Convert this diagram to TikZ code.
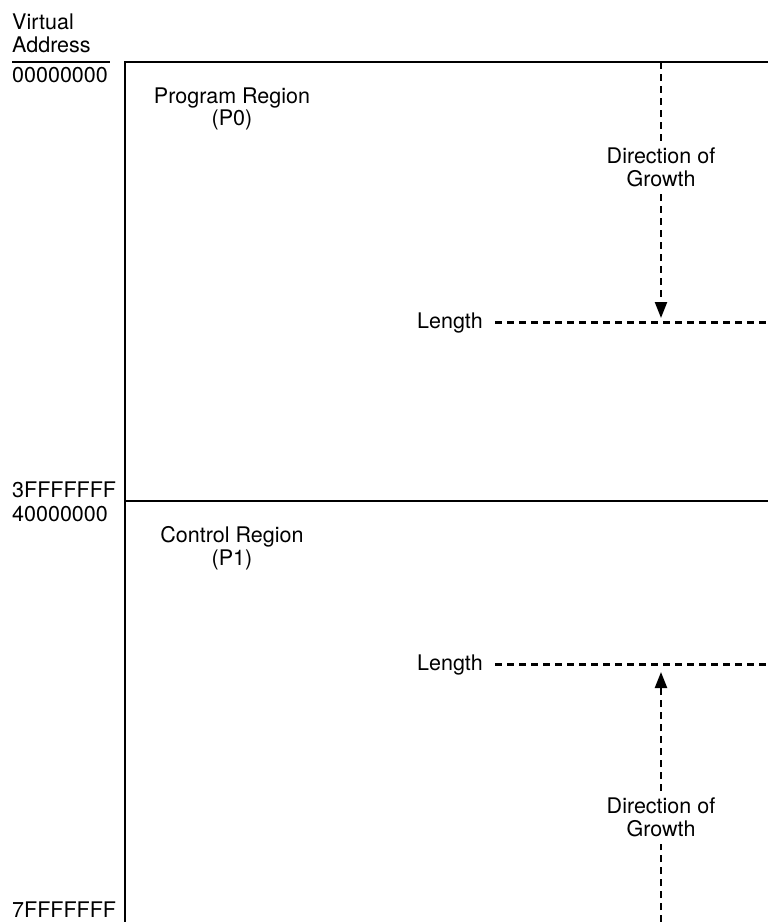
\documentclass[tikz,border=0pt]{standalone}
\usepackage{fontspec}
\setmainfont{TeX Gyre Heros}
\usetikzlibrary{arrows.meta}
\begin{document}
\begin{tikzpicture}[x=1pt,y=-1pt,
  txt/.style={font=\fontsize{21.5}{22.5}\selectfont, inner sep=0pt},
  frame/.style={line width=2pt},
  guide/.style={line width=2.2pt, dash pattern=on 7pt off 5pt},
  growth/.style={guide, -{Triangle[width=12pt,length=16pt]}}]
\useasboundingbox (0,0) rectangle (768,922);
\coordinate (edge) at (768,0);

% address column
\node[txt, anchor=base west] (virt) at (12,29) {Virtual};
\node[txt, anchor=base west] (addr) at (12,52) {Address};
\draw[line width=1.8pt] (12,61.7) -- (110,61.7);
\node[txt, anchor=base west] (a0) at (12,82.5) {00000000};
\node[txt, anchor=base west] (a3) at (12,497) {3FFFFFFF};
\node[txt, anchor=base west] (a4) at (12,521) {40000000};
\node[txt, anchor=base west] (a7) at (12,917) {7FFFFFFF};

% address space frame
\draw[frame] (768,62) -- (125,62) -- (125,922);
\draw[frame] (125,501) -- (768,501);

% region names
\node[txt, align=center, anchor=north] (p0) at (232,87.5) {Program Region\\(P0)};
\node[txt, align=center, anchor=north] (p1) at (232,526.5) {Control Region\\(P1)};

% length markers
\node[txt, anchor=base east] (len0) at (483,328) {Length};
\node[txt, anchor=base east] (len1) at (483,670) {Length};
\draw[guide, shorten <=12pt] (len0.east) -- (len0.east -| edge);
\draw[guide, shorten <=12pt] (len1.east) -- (len1.east -| edge);

% P0 grows upward in address (downward on the page)
\coordinate (g0top) at (661,62);
\coordinate (g0tip) at (661,318);
\node[txt, align=center, anchor=north, inner sep=7pt] (dir0) at (661,141) {Direction of\\Growth};
\draw[guide] (g0top) -- (dir0.north);
\draw[growth] (dir0.south) -- (g0tip);

% P1 grows toward lower addresses
\coordinate (g1bot) at (661,922);
\coordinate (g1tip) at (661,672);
\node[txt, align=center, anchor=north, inner sep=7pt] (dir1) at (661,791) {Direction of\\Growth};
\draw[guide] (g1bot) -- (dir1.south);
\draw[growth] (dir1.north) -- (g1tip);
\end{tikzpicture}
\end{document}
